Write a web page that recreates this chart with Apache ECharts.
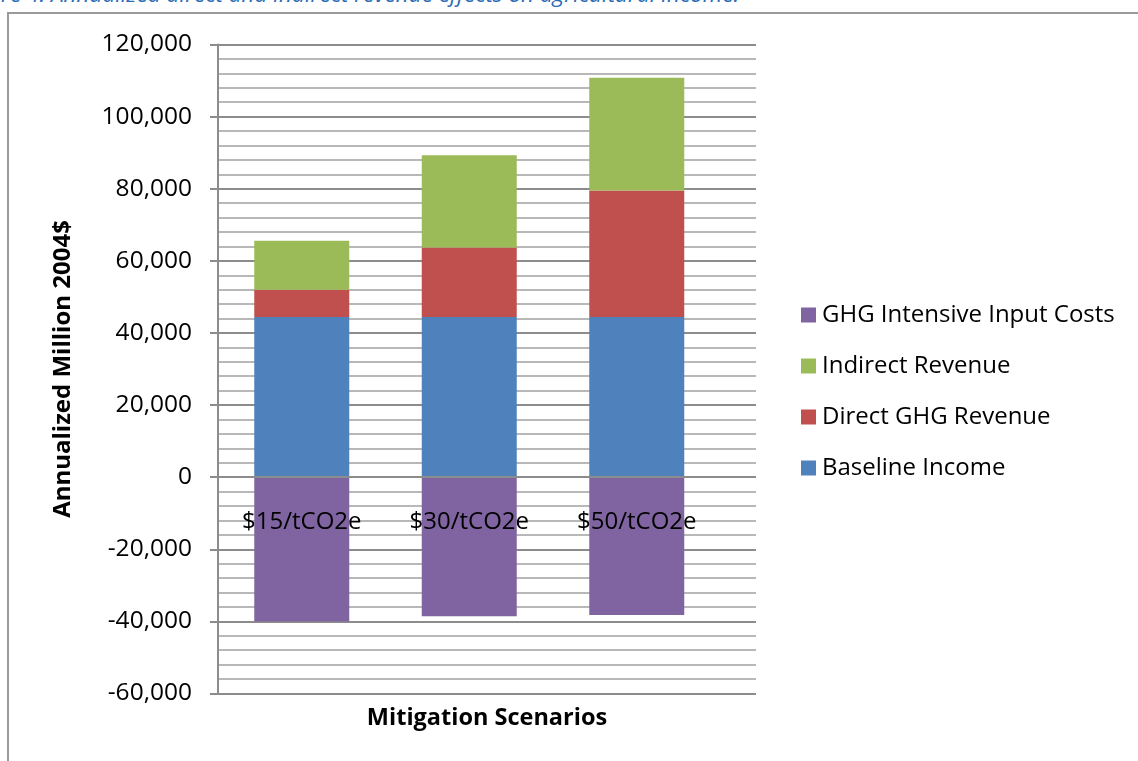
<!DOCTYPE html>
<html>
<head>
<meta charset="utf-8">
<style>
  html, body { margin: 0; padding: 0; background: #fff; width: 1138px; height: 761px; overflow: hidden; }
  #caption {
    position: absolute; left: -40px; top: -22px; white-space: nowrap;
    font-family: "Open Sans", sans-serif; font-style: italic; font-size: 22.5px;
    color: #2b6cb5;
  }
  #frame {
    position: absolute; left: 7px; top: 12px; width: 1200px; height: 800px;
    border-left: 2px solid #9a9a9a; border-top: 2px solid #9a9a9a;
  }
  #chart { position: absolute; left: 0; top: 0; width: 1138px; height: 761px; }
</style>
<script src="https://cdn.jsdelivr.net/npm/echarts@6/dist/echarts.min.js"></script>
</head>
<body>
<div id="caption">Figure 4: Annualized direct and indirect revenue effects on agricultural income.</div>
<div id="frame"></div>
<div id="chart"></div>
<script>
// Carbon price scenarios and their income components (annualized million 2004$)
const categories = ['$15/tCO2e', '$30/tCO2e', '$50/tCO2e'];
const baselineIncome = [44400, 44400, 44400];
const directGhgRevenue = [7600, 19300, 35100];
const indirectRevenue = [13600, 25600, 31300];
const ghgInputCosts = [-40000, -38600, -38200];

const legendOrder = ['GHG Intensive Input Costs', 'Indirect Revenue', 'Direct GHG Revenue', 'Baseline Income'];

const FONT = '"Open Sans", sans-serif';
const Y_MIN = -60000, Y_MAX = 120000, Y_STEP = 20000;

// plot box (px)
const PLOT_TOP = 44.5, PLOT_H = 649;

const chart = echarts.init(document.getElementById('chart'));

function barSeries(name, data, color) {
  return {
    name: name,
    type: 'bar',
    stack: 'income',
    xAxisIndex: 1,
    yAxisIndex: 1,
    barWidth: 95,
    data: data,
    itemStyle: { color: color },
    emphasis: { disabled: true }
  };
}

// category labels sit just under the zero line
const zeroOffset = -PLOT_H * (0 - Y_MIN) / (Y_MAX - Y_MIN);

chart.setOption({
  animation: false,
  textStyle: { fontFamily: FONT },
  grid: [
    // full plot area: gridlines and axis titles
    { left: 218, top: PLOT_TOP, width: 538, height: PLOT_H },
    // bar area
    { left: 218, top: PLOT_TOP, width: 502.5, height: PLOT_H }
  ],
  legend: {
    orient: 'vertical',
    left: 801,
    top: 303,
    padding: 0,
    itemWidth: 15,
    itemHeight: 15,
    itemGap: 27,
    icon: 'rect',
    data: legendOrder,
    textStyle: { fontFamily: FONT, fontSize: 24, color: '#000', lineHeight: 24, padding: [0, 0, 0, 1] }
  },
  xAxis: [
    {
      gridIndex: 0,
      type: 'category',
      data: [''],
      axisLine: { show: false },
      axisTick: { show: false },
      axisLabel: { show: false },
      name: 'Mitigation Scenarios',
      nameLocation: 'middle',
      nameGap: 13,
      nameTextStyle: { fontFamily: FONT, fontSize: 23.5, fontWeight: 'bold', color: '#000' }
    },
    {
      gridIndex: 1,
      type: 'category',
      data: categories,
      z: 10,
      offset: zeroOffset,
      axisLine: { show: true, onZero: false, lineStyle: { color: '#8c8c8c', width: 2 } },
      axisTick: { show: false },
      axisLabel: { fontFamily: FONT, fontSize: 24, color: '#000', margin: 33 }
    }
  ],
  yAxis: [
    {
      gridIndex: 0,
      type: 'value',
      min: Y_MIN,
      max: Y_MAX,
      interval: Y_STEP,
      axisLine: { show: true, lineStyle: { color: '#8c8c8c', width: 2 } },
      axisTick: { show: true, length: 8, lineStyle: { color: '#8c8c8c', width: 2 } },
      minorTick: { show: true, splitNumber: 5, length: 0 },
      axisLabel: {
        fontFamily: FONT, fontSize: 24.5, color: '#000', margin: 26,
        formatter: v => v.toLocaleString('en-US')
      },
      splitLine: { show: true, lineStyle: { color: '#8c8c8c', width: 2 } },
      minorSplitLine: { show: true, lineStyle: { color: '#b8b8b8', width: 2 } },
      name: 'Annualized Million 2004$',
      nameLocation: 'middle',
      nameGap: 143,
      nameTextStyle: { fontFamily: FONT, fontSize: 24, fontWeight: 'bold', color: '#000' }
    },
    {
      gridIndex: 1,
      type: 'value',
      min: Y_MIN,
      max: Y_MAX,
      interval: Y_STEP,
      show: false,
      splitLine: { show: false }
    }
  ],
  series: [
    barSeries('Baseline Income', baselineIncome, '#4F81BD'),
    barSeries('Direct GHG Revenue', directGhgRevenue, '#C0504D'),
    barSeries('Indirect Revenue', indirectRevenue, '#9BBB59'),
    barSeries('GHG Intensive Input Costs', ghgInputCosts, '#8064A2')
  ]
});
</script>
</body>
</html>
